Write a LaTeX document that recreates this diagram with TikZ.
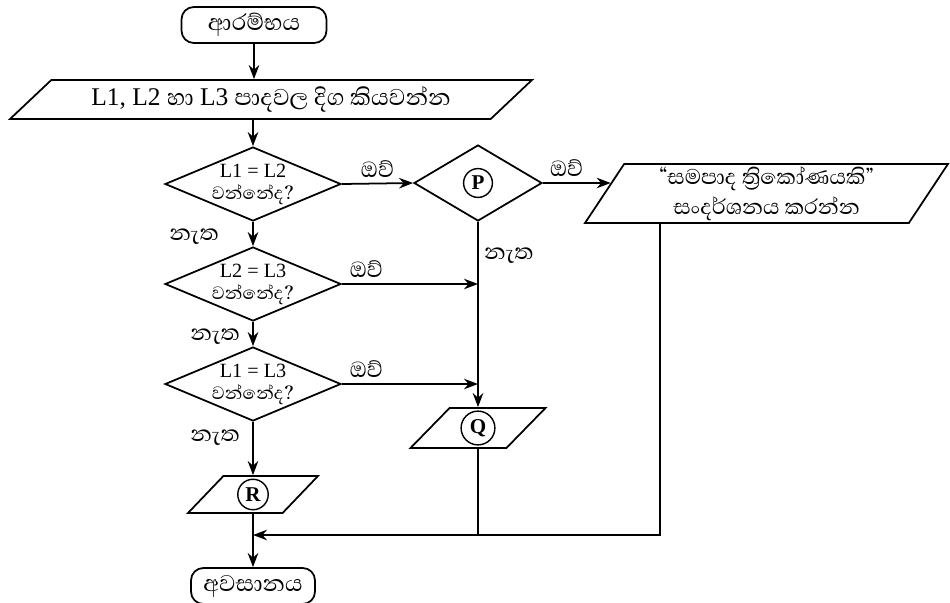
\documentclass[tikz,border=0pt]{standalone}
\usepackage{fontspec}
\setmainfont{Liberation Serif}
\newfontfamily\sinfont[Script=Sinhala]{Abhaya Libre}
\usepackage{tikz}
\usetikzlibrary{arrows.meta,positioning,shapes.geometric,calc}

\newcommand\sintxt[1]{{\fontsize{13}{13}\selectfont\sinfont #1}}
\newcommand\circled[1]{\tikz[baseline=(ch.base)]\node[shape=circle,draw,line width=0.8pt,
  inner sep=2pt,minimum size=0pt,font=\fontsize{12}{12}\selectfont\bfseries](ch){#1};}

\begin{document}
\begin{tikzpicture}[x=0.02cm, y=-0.02cm,
  term/.style={draw, rounded corners=7pt, line width=1pt, minimum width=2.9cm,
    minimum height=0.72cm, font=\fontsize{16.5}{18}\selectfont\sinfont},
  io/.style={draw, trapezium, trapezium stretches body, line width=1pt, inner sep=0pt},
  decide/.style={draw, diamond, aspect=2.4, inner sep=-1pt, line width=1pt,
    align=center, font=\fontsize{11.5}{12.5}\selectfont},
  arr/.style={-{Stealth[length=8pt,width=6pt]}, line width=1pt},
  wire/.style={line width=1pt},
  lbl/.style={font=\fontsize{16}{18}\selectfont\sinfont, inner sep=1pt},
]
  \useasboundingbox (0,0) rectangle (950,602);

  \node[term] (start) at (254,25) {ආරම්භය};
  \node[io, trapezium left angle=32, trapezium right angle=148, minimum width=10.44cm,
    minimum height=0.78cm, font=\fontsize{14.5}{16}\selectfont] (in) at (271,99.5)
    {L1, L2 {\fontsize{16.7}{18}\sinfont හා} L3 {\fontsize{16.7}{18}\sinfont පාදවල දිග කියවන්න}};

  \node[decide, minimum width=3.52cm, minimum height=1.48cm] (d1) at (253,184)
    {L1 = L2\\\sintxt{වන්නේද?}};
  \node[decide, minimum width=3.52cm, minimum height=1.48cm] (d2) at (253,284)
    {L2 = L3\\\sintxt{වන්නේද?}};
  \node[decide, minimum width=3.52cm, minimum height=1.48cm] (d3) at (253,384)
    {L1 = L3\\\sintxt{වන්නේද?}};

  \node[decide, aspect=1.7, minimum width=2.56cm, minimum height=1.52cm] (p) at (478,183)
    {\circled{P}};
  \node[io, trapezium left angle=54, trapezium right angle=126, minimum width=7.26cm,
    minimum height=1.18cm, align=center, font=\fontsize{15.5}{17}\selectfont\sinfont]
    (out) at (766.5,193.5) {“සමපාද ත්‍රිකෝණයකි”\\සංදර්ශනය කරන්න};

  \node[io, trapezium left angle=42, trapezium right angle=138, minimum width=2.7cm,
    minimum height=0.8cm] (q) at (478,428) {\circled{Q}};
  \node[io, trapezium left angle=42, trapezium right angle=138, minimum width=2.6cm,
    minimum height=0.74cm] (r) at (253,494.5) {\circled{R}};
  \node[term, minimum width=2.48cm] (end) at (253,586) {අවසානය};

  \coordinate (mrg) at (253,535);
  \coordinate (mrgR) at (660,535);
  \coordinate (hitO) at ($(out.bottom left corner)!0.678!(out.top left corner)$);

  % main column
  \draw[arr] (start.south) -- (start.south |- in.north);
  \draw[arr] (d1.north |- in.south) -- (d1.north);
  \draw[arr] (d1.south) -- node[lbl, left=18pt, pos=0.6] {නැත} (d2.north);
  \draw[arr] (d2.south) -- node[lbl, left=6pt, pos=0.6] {නැත} (d3.north);
  \draw[arr] (d3.south) -- node[lbl, left=6pt, pos=0.3] {නැත} (r.north);
  \draw[arr] (r.south) -- (end.north);

  % yes branches
  \draw[arr] (d1.east) -- node[lbl, above=2pt] {ඔව්} (p.west);
  \draw[arr] (p.east) -- node[lbl, above=2pt, pos=0.35] {ඔව්} (p.east -| hitO);
  \draw[arr] (d2.east) -- node[lbl, above=2pt, pos=0.18] {ඔව්} (d2.east -| p.south);
  \draw[arr] (d3.east) -- node[lbl, above=2pt, pos=0.18] {ඔව්} (d3.east -| p.south);
  \draw[arr] (p.south) -- node[lbl, right=2pt, pos=0.18] {නැත} (q.north);

  % back to the end
  \draw[wire] (q.south) -- (q.south |- mrg);
  \draw[arr] (out.south -| mrgR) -- (mrgR) -- (mrg);
\end{tikzpicture}
\end{document}
